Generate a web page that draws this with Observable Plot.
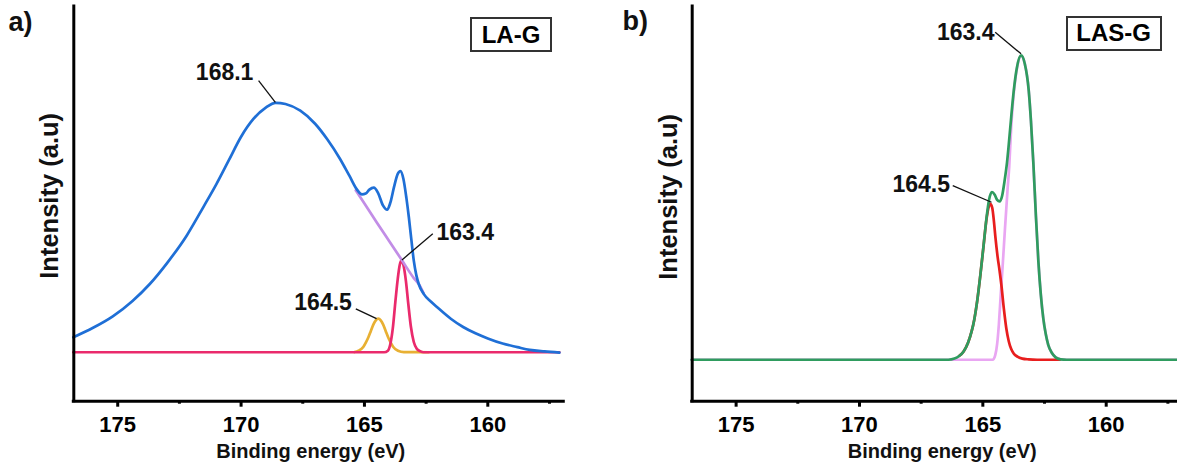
<!DOCTYPE html>
<html><head><meta charset="utf-8">
<script src="https://cdn.jsdelivr.net/npm/d3@7"></script>
<script src="https://cdn.jsdelivr.net/npm/@observablehq/plot@0.6"></script>
<style>
html,body{margin:0;padding:0;background:#fff;overflow:hidden;}
#page{position:relative;width:1177px;height:468px;overflow:hidden;font-family:"Liberation Sans",Arial,sans-serif;}
.panel{position:absolute;top:0;height:468px;}
.panel svg{max-width:none !important;}
.tag{position:absolute;box-sizing:border-box;border:2px solid #333;display:flex;align-items:center;justify-content:center;font-weight:bold;font-size:24px;color:#000;font-family:"Liberation Sans",Arial,sans-serif;}
</style></head><body><div id="page"></div>
<script>
// ---- axis settings (binding energy, eV) ----
const xDomain = [176.78, 156.92];
const majorTicks = [175, 170, 165, 160];
const minorTicks = [172.5, 167.5, 162.5, 157.5];
const xLabel = "Binding energy (eV)";
const yLabel = "Intensity (a.u)";

// ---- panel a) LA-G : [binding energy, intensity] ----
const laEnvelope = [[176.8,16.2],[176.0,18.6],[175.2,21.5],[174.4,25.4],[173.7,29.7],[173.0,35.0],[172.2,42.0],[171.5,49.5],[171.0,55.0],[170.5,61.0],[170.0,67.0],[169.5,71.5],[169.0,74.4],[168.6,75.6],[168.2,75.3],[167.6,73.6],[167.0,70.3],[166.5,66.3],[166.0,61.5],[165.6,57.0],[165.3,53.6],[165.1,52.4],[164.95,52.6],[164.8,53.6],[164.62,54.1],[164.45,52.8],[164.25,49.6],[164.08,48.5],[163.95,50.3],[163.8,54.3],[163.65,57.6],[163.54,58.3],[163.42,56.3],[163.3,51.5],[163.2,46.6],[163.1,41.0],[163.0,35.6],[162.9,32.0],[162.8,29.7],[162.6,27.2],[162.3,25.2],[162.05,23.8],[161.5,20.9],[161.0,18.8],[160.5,17.2],[160.0,15.9],[159.4,14.6],[158.8,13.7],[158.3,13.0],[157.7,12.6],[157.1,12.3]];
const laBroad = [[165.35,53.4],[165.0,50.1],[164.5,45.3],[164.0,40.6],[163.5,35.9],[163.0,31.2],[162.8,29.7],[162.6,27.3]];
const laPeak1634 = [[176.8,12.4],[164.2,12.4],[164.05,12.8],[163.95,14.5],[163.85,18.5],[163.75,25.0],[163.65,31.0],[163.57,34.5],[163.5,35.6],[163.42,34.5],[163.32,30.5],[163.22,24.5],[163.12,19.0],[163.0,15.0],[162.88,13.3],[162.75,12.7],[162.6,12.4],[157.1,12.4]];
const laPeak1645 = [[165.4,12.45],[165.24,12.8],[165.04,13.8],[164.94,14.9],[164.84,16.2],[164.74,17.8],[164.64,19.4],[164.54,20.5],[164.44,20.9],[164.34,20.5],[164.24,19.4],[164.14,17.8],[164.04,16.2],[163.94,14.9],[163.84,13.8],[163.64,12.8],[163.4,12.45],[162.4,12.4]];
const laLabels = [
  {text:"168.1", x:169.50, y:83.2, anchor:"end", x1:169.29, y1:81.2, x2:168.61, y2:75.7},
  {text:"163.4", x:162.08, y:42.8, anchor:"start", x1:162.23, y1:42.4, x2:163.48, y2:35.8},
  {text:"164.5", x:165.51, y:25.0, anchor:"end", x1:165.35, y1:23.4, x2:164.51, y2:20.9}
];

// ---- panel b) LAS-G : [binding energy, intensity] ----
const lasEnvelope = [[176.8,10.5],[166.4,10.5],[166.15,10.8],[165.95,11.5],[165.78,12.6],[165.6,14.8],[165.45,17.8],[165.35,20.6],[165.22,25.8],[165.1,32.0],[164.97,39.5],[164.85,46.5],[164.75,51.0],[164.63,53.0],[164.52,52.3],[164.42,51.0],[164.32,50.6],[164.22,52.0],[164.12,55.8],[164.02,60.5],[163.95,65.0],[163.85,72.0],[163.75,78.5],[163.62,84.5],[163.45,87.6],[163.3,85.5],[163.14,78.7],[163.05,71.0],[162.95,60.0],[162.85,47.0],[162.75,35.5],[162.65,27.0],[162.55,21.0],[162.45,17.0],[162.35,14.3],[162.2,12.2],[162.05,11.1],[161.85,10.6],[161.6,10.5],[156.8,10.5]];
const lasPeak1645 = [[165.95,11.5],[165.78,12.6],[165.6,14.8],[165.45,17.8],[165.35,20.6],[165.22,25.8],[165.1,32.0],[164.97,39.4],[164.85,46.2],[164.76,49.3],[164.7,50.0],[164.62,49.0],[164.55,45.5],[164.49,41.5],[164.4,36.5],[164.32,33.0],[164.25,29.5],[164.15,23.5],[164.05,18.5],[163.95,15.2],[163.85,13.2],[163.75,12.1],[163.6,11.3],[163.4,10.8],[163.15,10.6],[162.8,10.5],[161.88,10.5]];
const lasPeak1634 = [[176.8,10.5],[164.6,10.5],[164.5,11.6],[164.42,14.5],[164.35,19.5],[164.28,26.5],[164.2,34.0],[164.1,44.0],[164.0,53.5],[163.93,59.5],[163.85,69.5],[163.75,77.8],[163.62,84.2],[163.45,87.5],[163.3,85.5],[163.14,78.7],[163.05,71.0],[162.95,60.0],[162.85,47.0],[162.75,35.5],[162.65,27.0],[162.55,21.0],[162.45,17.0],[162.35,14.3],[162.2,12.2],[162.05,11.1],[161.85,10.6],[161.6,10.5],[156.8,10.5]];
const lasLabels = [
  {text:"163.4", x:164.53, y:93.3, anchor:"end", x1:164.50, y1:93.5, x2:163.45, y2:88.0},
  {text:"164.5", x:166.33, y:54.9, anchor:"end", x1:166.22, y1:54.6, x2:164.65, y2:50.4}
];

const FONT = '"Liberation Sans", Arial, sans-serif';

function panel({width, marginLeft, marginRight, series, labels, letter, letterDx, letterDy, xlabDx, ylabDx, ylabDy}) {
  const line = (data, stroke) => Plot.line(data, {x: d => d[0], y: d => d[1], stroke, strokeWidth: 2.7, curve: "monotone-x"});
  return Plot.plot({
    width, height: 468,
    marginLeft, marginRight, marginTop: 6, marginBottom: 67.3,
    x: {domain: xDomain},
    y: {domain: [0, 100], axis: null},
    style: {fontFamily: FONT, fontWeight: "bold", color: "#000", background: "transparent", overflow: "visible", maxWidth: "none"},
    marks: [
      ...series.map(([d, c]) => line(d, c)),
      Plot.link(labels, {x1: "x1", y1: "y1", x2: "x2", y2: "y2", stroke: "#111", strokeWidth: 1.3}),
      Plot.text(labels.filter(d => d.anchor === "end"), {x: "x", y: "y", text: "text", textAnchor: "end", lineAnchor: "middle", fontSize: 23, fontWeight: "bold", fill: "#111"}),
      Plot.text(labels.filter(d => d.anchor === "start"), {x: "x", y: "y", text: "text", textAnchor: "start", lineAnchor: "middle", fontSize: 23, fontWeight: "bold", fill: "#111"}),
      Plot.ruleX([xDomain[0]], {stroke: "#000", strokeWidth: 3, strokeLinecap: "square"}),
      Plot.ruleY([0], {stroke: "#000", strokeWidth: 3, strokeLinecap: "square"}),
      Plot.axisX({ticks: majorTicks, tickSize: 6, tickPadding: 9, strokeWidth: 3, fontSize: 22, fontWeight: "bold", tickFormat: d => String(d), label: null}),
      Plot.axisX({ticks: minorTicks, tickSize: 3, strokeWidth: 3, tickFormat: () => "", label: null}),
      Plot.text([xLabel], {text: d => d, frameAnchor: "bottom", textAnchor: "middle", lineAnchor: "middle", dy: 50.2, dx: xlabDx, fontSize: 20, fontWeight: "bold", fill: "#111"}),
      Plot.text([yLabel], {text: d => d, frameAnchor: "left", textAnchor: "middle", lineAnchor: "middle", rotate: -90, dx: ylabDx, dy: ylabDy, fontSize: 25.5, fontWeight: "bold", fill: "#111"}),
      Plot.text([letter], {text: d => d, frameAnchor: "top-left", textAnchor: "start", lineAnchor: "middle", dx: letterDx, dy: letterDy, fontSize: 27, fontWeight: "bold", fill: "#111"})
    ]
  });
}

const page = document.getElementById("page");

const a = panel({
  width: 590, marginLeft: 73.3, marginRight: 26.7,
  series: [[laPeak1645, "#e8b033"], [laPeak1634, "#ea2a6c"], [laBroad, "#c28de6"], [laEnvelope, "#1f6fd6"]],
  labels: laLabels, letter: "a)", letterDx: -65.3, letterDy: 15.9, xlabDx: -8, ylabDx: -24, ylabDy: -8
});
const wa = document.createElement("div"); wa.className = "panel"; wa.style.left = "0px"; wa.style.width = "590px"; wa.appendChild(a); page.appendChild(wa);

const b = panel({
  width: 600, marginLeft: 101.7, marginRight: 8.3,
  series: [[lasPeak1634, "#e9a6f2"], [lasPeak1645, "#e81e1e"], [lasEnvelope, "#2f9c5f"]],
  labels: lasLabels, letter: "b)", letterDx: -69.7, letterDy: 14.9, xlabDx: 5, ylabDx: -23.5, ylabDy: -7
});
const wb = document.createElement("div"); wb.className = "panel"; wb.style.left = "590px"; wb.style.width = "600px"; wb.appendChild(b); page.appendChild(wb);

function tag(text, left, top, w, h) {
  const d = document.createElement("div");
  d.className = "tag"; d.textContent = text;
  Object.assign(d.style, {left: left + "px", top: top + "px", width: w + "px", height: h + "px"});
  page.appendChild(d);
}
tag("LA-G", 470, 17.3, 82, 34.5);
tag("LAS-G", 1065.7, 16, 96, 34.7);
</script>
</body></html>
